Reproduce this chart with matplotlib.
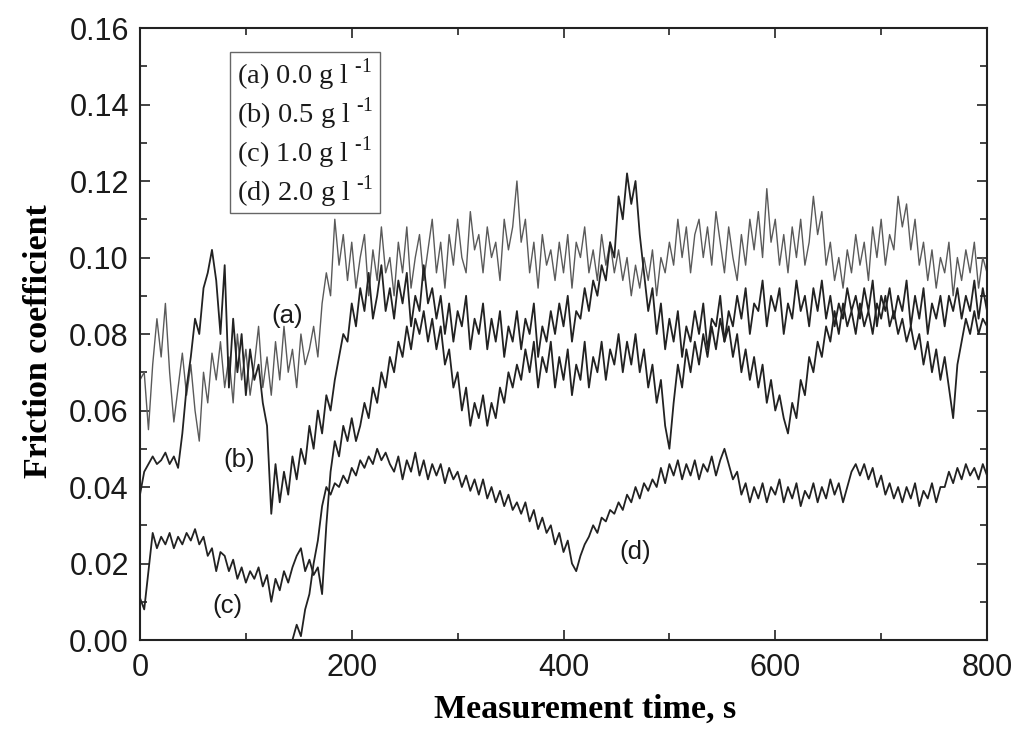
import numpy as np
import matplotlib
matplotlib.use("Agg")
import matplotlib.pyplot as plt
from matplotlib.patches import Rectangle
from matplotlib.ticker import MultipleLocator

# ---------------- data (friction coefficient x 1000, sampled every 4 s) ----------------
time_s = list(range(0, 801, 4))

mu_a = [  # (a) 0.0 g/l
    68, 70, 55, 72, 84, 74, 88, 70, 57, 66,
    75, 64, 72, 60, 52, 70, 62, 75, 68, 78,
    66, 74, 62, 80, 68, 76, 64, 72, 82, 66,
    74, 64, 78, 68, 82, 70, 76, 66, 80, 72,
    76, 82, 74, 88, 96, 90, 110, 98, 106, 94,
    104, 92, 100, 106, 90, 102, 94, 108, 96, 100,
    90, 104, 96, 108, 92, 100, 106, 94, 102, 110,
    96, 104, 92, 106, 98, 110, 100, 96, 112, 102,
    106, 96, 108, 100, 104, 94, 110, 102, 108, 120,
    104, 110, 96, 104, 92, 106, 98, 102, 94, 104,
    96, 106, 92, 104, 100, 108, 96, 102, 94, 106,
    98, 104, 96, 102, 94, 100, 90, 98, 92, 100,
    94, 102, 90, 100, 96, 104, 98, 110, 100, 108,
    96, 106, 110, 100, 108, 98, 112, 104, 96, 108,
    100, 94, 106, 98, 110, 102, 112, 100, 118, 104,
    110, 98, 106, 96, 108, 100, 110, 98, 104, 116,
    106, 112, 98, 104, 94, 100, 92, 102, 96, 106,
    98, 104, 94, 108, 100, 110, 98, 106, 102, 116,
    108, 114, 102, 110, 98, 104, 94, 102, 92, 100,
    96, 104, 90, 100, 94, 102, 96, 104, 92, 100,
    96,
]

mu_b = [  # (b) 0.5 g/l
    38, 44, 46, 48, 46, 47, 49, 46, 48, 45,
    54, 66, 74, 84, 80, 92, 96, 102, 94, 80,
    98, 66, 84, 70, 80, 64, 76, 68, 72, 62,
    56, 33, 46, 36, 44, 38, 48, 42, 50, 46,
    56, 50, 60, 54, 64, 60, 68, 74, 80, 78,
    88, 82, 92, 86, 96, 84, 90, 98, 86, 92,
    84, 94, 88, 96, 82, 90, 86, 98, 88, 92,
    84, 90, 80, 88, 78, 86, 82, 90, 76, 84,
    80, 88, 76, 84, 78, 86, 74, 82, 78, 86,
    76, 84, 80, 88, 74, 82, 78, 86, 80, 88,
    82, 90, 78, 86, 84, 92, 86, 94, 90, 98,
    94, 104, 100, 116, 110, 122, 114, 120, 106, 96,
    86, 92, 80, 88, 76, 84, 78, 86, 74, 82,
    78, 86, 80, 88, 76, 84, 82, 90, 78, 86,
    82, 90, 84, 92, 80, 88, 86, 94, 82, 90,
    86, 92, 80, 88, 84, 94, 86, 90, 82, 92,
    86, 94, 84, 90, 82, 88, 84, 92, 86, 90,
    84, 92, 86, 94, 82, 90, 86, 92, 84, 90,
    86, 94, 82, 90, 84, 92, 80, 88, 84, 90,
    82, 90, 86, 92, 84, 90, 86, 94, 84, 92,
    86,
]

mu_c = [  # (c) 1.0 g/l
    11, 8, 18, 28, 24, 27, 25, 28, 24, 27,
    25, 28, 26, 29, 25, 27, 22, 24, 18, 23,
    22, 18, 21, 16, 19, 15, 18, 16, 19, 14,
    17, 10, 16, 13, 18, 15, 19, 22, 24, 18,
    21, 17, 19, 12, 30, 44, 52, 48, 56, 52,
    58, 52, 56, 62, 58, 66, 62, 70, 66, 74,
    70, 78, 74, 82, 76, 84, 80, 86, 78, 84,
    76, 82, 72, 76, 66, 70, 60, 66, 56, 62,
    58, 64, 56, 62, 58, 66, 62, 70, 66, 72,
    68, 76, 70, 78, 66, 74, 70, 78, 66, 74,
    68, 76, 64, 72, 68, 78, 66, 74, 70, 78,
    68, 76, 72, 80, 70, 78, 72, 80, 70, 76,
    66, 72, 62, 68, 56, 50, 62, 72, 66, 76,
    70, 78, 72, 80, 74, 82, 76, 84, 78, 82,
    74, 80, 70, 76, 68, 74, 66, 72, 62, 68,
    60, 64, 58, 54, 62, 58, 68, 64, 74, 70,
    78, 74, 82, 78, 86, 80, 88, 82, 86, 80,
    88, 82, 86, 80, 88, 84, 90, 82, 86, 80,
    84, 78, 82, 76, 80, 72, 78, 70, 76, 68,
    74, 66, 58, 72, 78, 84, 80, 86, 80, 84,
    82,
]

mu_d = [  # (d) 2.0 g/l
    0, 0, 0, 0, 0, 0, 0, 0, 0, 0,
    0, 0, 0, 0, 0, 0, 0, 0, 0, 0,
    0, 0, 0, 0, 0, 0, 0, 0, 0, 0,
    0, 0, 0, 0, 0, 0, 0, 4, 1, 8,
    12, 20, 26, 35, 40, 38, 41, 40, 43, 41,
    45, 43, 47, 45, 48, 46, 50, 47, 49, 46,
    44, 48, 42, 47, 44, 49, 43, 47, 42, 46,
    43, 46, 41, 45, 42, 44, 40, 43, 39, 42,
    38, 42, 37, 40, 36, 39, 35, 38, 34, 36,
    33, 36, 31, 34, 29, 32, 28, 30, 25, 28,
    23, 26, 20, 18, 22, 25, 27, 30, 28, 32,
    31, 34, 33, 36, 34, 38, 36, 40, 37, 41,
    39, 42, 40, 45, 41, 46, 43, 47, 42, 46,
    43, 47, 42, 46, 44, 48, 43, 47, 50, 46,
    42, 44, 38, 41, 36, 40, 37, 41, 36, 40,
    38, 42, 36, 40, 37, 41, 35, 39, 37, 41,
    36, 40, 37, 42, 38, 41, 36, 40, 44, 46,
    43, 46, 42, 45, 40, 43, 38, 41, 37, 40,
    36, 40, 37, 41, 35, 39, 37, 41, 36, 40,
    40, 44, 41, 45, 42, 46, 43, 45, 42, 46,
    43,
]

legend_labels = ["(a) 0.0 g l", "(b) 0.5 g l", "(c) 1.0 g l", "(d) 2.0 g l"]
curve_tags = ["(a)", "(b)", "(c)", "(d)"]
tag_x = [139, 94, 83, 468]
tag_y = [0.0847, 0.047, 0.0089, 0.023]

x_ticks = [0, 200, 400, 600, 800]
y_ticks = [0.00, 0.02, 0.04, 0.06, 0.08, 0.10, 0.12, 0.14, 0.16]

# ---------------- figure ----------------
plt.rcParams["mathtext.fontset"] = "custom"
plt.rcParams["mathtext.rm"] = "Liberation Serif"

fig = plt.figure(figsize=(10.24, 7.43), dpi=100)
ax = fig.add_axes([0.1367, 0.1386, 0.9639 - 0.1367, 0.9623 - 0.1386])

t = np.array(time_s)
ax.plot(t, np.array(mu_a) / 1000.0, color="#5a5a5a", lw=1.0)
ax.plot(t, np.array(mu_b) / 1000.0, color="#222222", lw=1.3)
ax.plot(t, np.array(mu_c) / 1000.0, color="#222222", lw=1.3)
ax.plot(t, np.array(mu_d) / 1000.0, color="#222222", lw=1.3)

ax.set_xlim(0, 800)
ax.set_ylim(0, 0.16)
ax.set_xticks(x_ticks)
ax.set_yticks(y_ticks)
ax.set_xticklabels([str(v) for v in x_ticks])
ax.set_yticklabels([f"{v:.2f}" for v in y_ticks])
ax.xaxis.set_minor_locator(MultipleLocator(100))
ax.yaxis.set_minor_locator(MultipleLocator(0.01))

tickfont = ["Liberation Sans", "DejaVu Sans"]
ax.tick_params(which="both", direction="in", top=True, right=True, width=1.2, color="#222222")
ax.tick_params(which="major", length=7)
ax.tick_params(which="minor", length=5)
ax.tick_params(axis="y", which="major", pad=8)
ax.tick_params(axis="x", which="major", pad=9)
for lab in ax.get_xticklabels() + ax.get_yticklabels():
    lab.set_family(tickfont)
    lab.set_fontsize(22)
    lab.set_color("#1a1a1a")

for s in ax.spines.values():
    s.set_linewidth(1.5)
    s.set_color("#222222")

ax.set_xlabel("Measurement time, s", family="Liberation Serif", fontweight="bold",
              fontsize=24.5)
ax.set_ylabel("Friction coefficient", family="Liberation Serif", fontweight="bold",
              fontsize=24.5)
ax.xaxis.set_label_coords(0.525, -0.088)
ax.yaxis.set_label_coords(-0.102, 0.489)

# curve tags
for tag, xv, yv in zip(curve_tags, tag_x, tag_y):
    ax.text(xv, yv, tag, family=tickfont, fontsize=18.5, ha="center", va="center", color="#1a1a1a")

# legend box
ax.add_patch(Rectangle((0.106, 0.698), 0.177, 0.263, transform=ax.transAxes,
                       fill=False, edgecolor="#666666", lw=1.0, zorder=5))
leg_y = [0.923, 0.860, 0.796, 0.732]
for lab, yv in zip(legend_labels, leg_y):
    ax.text(0.114, yv, lab + r"$^{\ \text{-1}}$", transform=ax.transAxes,
            family="Liberation Serif", fontsize=20.5, ha="left", va="center", color="#1a1a1a")

fig.savefig("out.png", dpi=100)
